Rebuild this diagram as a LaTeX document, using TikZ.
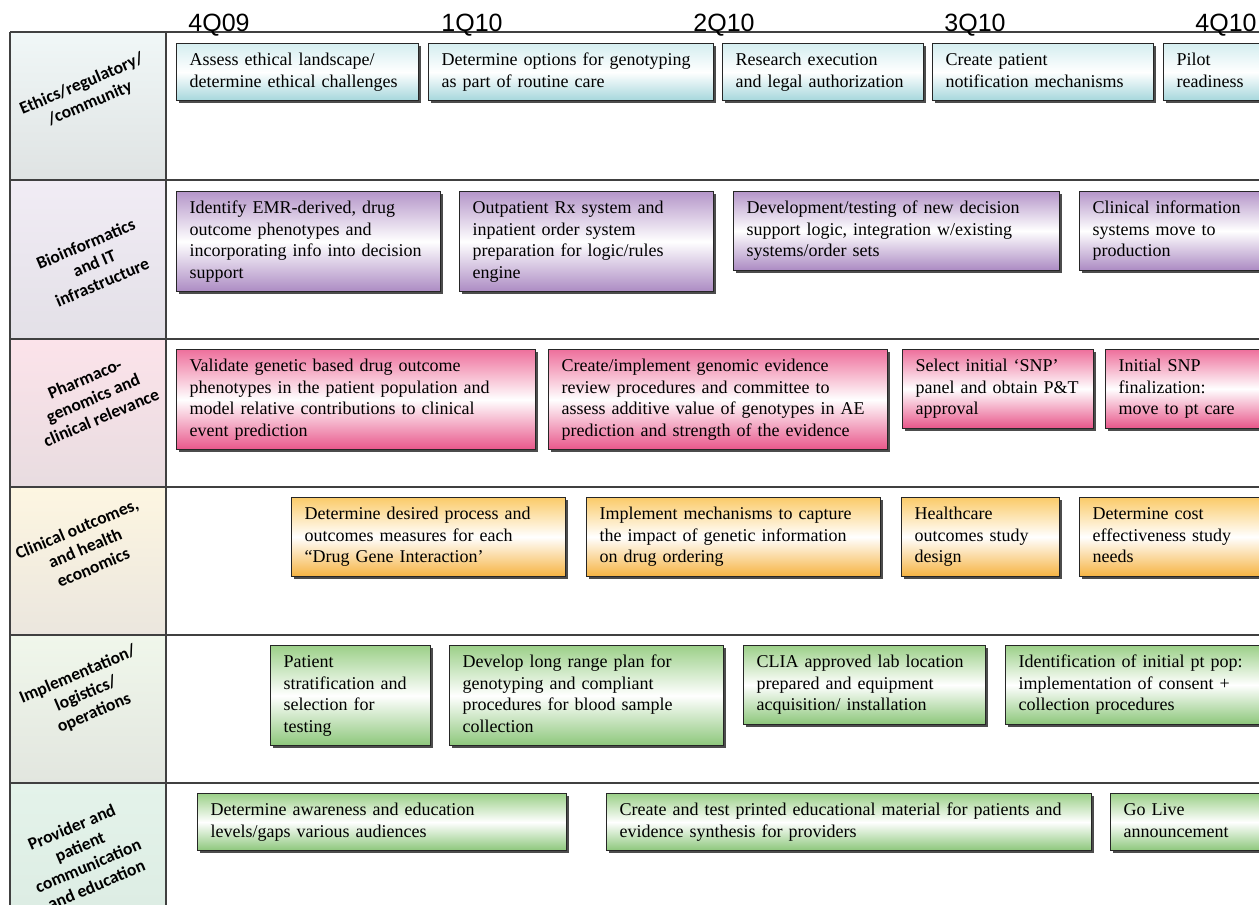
\documentclass[tikz,border=0pt]{standalone}
\usepackage{fontspec}
\setmainfont{Liberation Serif}
\newfontfamily\lanefont{Carlito}
\newfontfamily\quarterfont{Liberation Sans}
\usetikzlibrary{shadows}

\definecolor{ethtop}{HTML}{D5EEF0}
\definecolor{ethbot}{HTML}{A6D7DC}
\definecolor{biotop}{HTML}{B596C9}
\definecolor{biobot}{HTML}{AC8BC3}
\definecolor{pgxtop}{HTML}{EE709C}
\definecolor{pgxbot}{HTML}{E8568A}
\definecolor{outtop}{HTML}{FBCB6A}
\definecolor{outbot}{HTML}{F6B443}
\definecolor{imptop}{HTML}{9CD089}
\definecolor{impbot}{HTML}{8DC77B}
\definecolor{gridline}{HTML}{404040}
\definecolor{laneAt}{HTML}{F0F7F7}\definecolor{laneAb}{HTML}{DFE3E3}
\definecolor{laneBt}{HTML}{F1ECF5}\definecolor{laneBb}{HTML}{E3E0E7}
\definecolor{laneCt}{HTML}{FCE3EA}\definecolor{laneCb}{HTML}{E8DCE0}
\definecolor{laneDt}{HTML}{FDF6E1}\definecolor{laneDb}{HTML}{EBE6DE}
\definecolor{laneEt}{HTML}{F0F7EB}\definecolor{laneEb}{HTML}{E2E6DF}
\definecolor{laneFt}{HTML}{E4F3EA}\definecolor{laneFb}{HTML}{DDEDE4}

\tikzset{
  task/.style={draw=black!85, line width=1.2pt, anchor=north west, align=left,
    inner xsep=13pt, inner ysep=7pt, font=\fontsize{18}{21.5}\selectfont,
    execute at begin node=\strut, execute at end node=\strut,
    drop shadow={shadow xshift=2.5pt, shadow yshift=-2.5pt, fill=black!70, opacity=1}},
  taskcol/.style 2 args={task, top color=#1, bottom color=#2, middle color=white},
  ethbox/.style={taskcol={ethtop}{ethbot}},
  biobox/.style={taskcol={biotop}{biobot}},
  pgxbox/.style={taskcol={pgxtop}{pgxbot}},
  outbox/.style={taskcol={outtop}{outbot}},
  impbox/.style={taskcol={imptop}{impbot}},
  lanecell/.style 2 args={top color=#1, bottom color=#2},
  lane/.style={rotate=23, align=center, font=\lanefont\bfseries\fontsize{17.5}{21}\selectfont},
  quarter/.style={anchor=base, font=\quarterfont\fontsize{25}{25}\selectfont},
  grid/.style={draw=gridline, line width=1.4pt}
}

\begin{document}
\begin{tikzpicture}[x=1pt, y=-1pt]
  \useasboundingbox (0,0) rectangle (1259,905);
  \clip (0,0) rectangle (1259,905);

  % lane headers
  \shade[lanecell={laneAt}{laneAb}] (10,32) rectangle (166,180);
  \shade[lanecell={laneBt}{laneBb}] (10,180) rectangle (166,339);
  \shade[lanecell={laneCt}{laneCb}] (10,339) rectangle (166,487);
  \shade[lanecell={laneDt}{laneDb}] (10,487) rectangle (166,635);
  \shade[lanecell={laneEt}{laneEb}] (10,635) rectangle (166,783);
  \shade[lanecell={laneFt}{laneFb}] (10,783) rectangle (166,905);

  \draw[grid] (10,32) -- (1259,32);
  \foreach \y in {180,339,487,635,783}
    \draw[grid] (10,\y) -- (1259,\y);
  \draw[grid] (10,32) -- (10,905);
  \draw[grid] (166,32) -- (166,905);

  \node[quarter] (q409) at (219,31) {4Q09};
  \node[quarter] (q110) at (472,31) {1Q10};
  \node[quarter] (q210) at (724,31) {2Q10};
  \node[quarter] (q310) at (975,31) {3Q10};
  \node[quarter] (q410) at (1226,31) {4Q10};

  \node[lane] (lethics) at (86,94) {Ethics/regulatory/\\/community};
  \node[lane] (lbio) at (94,263) {Bioinformatics\\and IT\\infrastructure};
  \node[lane] (lpgx) at (93,398) {Pharmaco-\\genomics and\\clinical relevance};
  \node[lane] (lout) at (85,548) {Clinical outcomes,\\and health\\economics};
  \node[lane] (limp) at (86,694) {Implementation/\\logistics/\\operations};
  \node[lane] (ledu) at (84,856) {Provider and\\patient\\communication\\and education};

  % tasks
  \node[ethbox, text width=216pt] (eth1) at (176,43) {Assess ethical landscape/\\determine ethical challenges};
  \node[ethbox, text width=259pt] (eth2) at (428,43) {Determine options for genotyping\\as part of routine care};
  \node[ethbox, text width=175pt] (eth3) at (722,43) {Research execution\\and legal authorization};
  \node[ethbox, text width=195pt] (eth4) at (932,43) {Create patient\\notification mechanisms};
  \node[ethbox, text width=100pt] (eth5) at (1163,43) {Pilot\\readiness};

  \node[biobox, text width=238pt] (bio1) at (176,191) {Identify EMR-derived, drug\\outcome phenotypes and\\incorporating info into decision\\support};
  \node[biobox, text width=228pt] (bio2) at (459,191) {Outpatient Rx system and\\inpatient order system\\preparation for logic/rules\\engine};
  \node[biobox, text width=300pt] (bio3) at (733,191) {Development/testing of new decision\\support logic, integration w/existing\\systems/order sets};
  \node[biobox, text width=174pt] (bio4) at (1079,191) {Clinical information\\systems move to\\production};

  \node[pgxbox, text width=333pt] (pgx1) at (176,349) {Validate genetic based drug outcome\\phenotypes in the patient population and\\model relative contributions to clinical\\event prediction};
  \node[pgxbox, text width=313pt] (pgx2) at (548,349) {Create/implement genomic evidence\\review procedures and committee to\\assess additive value of genotypes in AE\\prediction and strength of the evidence};
  \node[pgxbox, text width=165pt] (pgx3) at (902,349) {Select initial ‘SNP’\\panel and obtain P\&T\\approval};
  \node[pgxbox, text width=150pt] (pgx4) at (1105,349) {Initial SNP\\finalization:\\move to pt care};

  \node[outbox, text width=248pt] (out1) at (291,497) {Determine desired process and\\outcomes measures for each\\“Drug Gene Interaction’};
  \node[outbox, text width=268pt] (out2) at (586,497) {Implement mechanisms to capture\\the impact of genetic information\\on drug ordering};
  \node[outbox, text width=132pt] (out3) at (901,497) {Healthcare\\outcomes study\\design};
  \node[outbox, text width=174pt] (out4) at (1079,497) {Determine cost\\effectiveness study\\needs};

  \node[impbox, text width=134pt] (imp1) at (270,645) {Patient\\stratification and\\selection for\\testing};
  \node[impbox, text width=248pt] (imp2) at (449,645) {Develop long range plan for\\genotyping and compliant\\procedures for blood sample\\collection};
  \node[impbox, text width=216pt] (imp3) at (743,645) {CLIA approved lab location\\prepared and equipment\\acquisition/ installation};
  \node[impbox, text width=254pt] (imp4) at (1005,645) {Identification of initial pt pop:\\implementation of consent +\\collection procedures};

  \node[impbox, text width=343pt] (edu1) at (197,793) {Determine awareness and education\\levels/gaps various audiences};
  \node[impbox, text width=459pt] (edu2) at (606,793) {Create and test printed educational material for patients and\\evidence synthesis for providers};
  \node[impbox, text width=144pt] (edu3) at (1110,793) {Go Live\\announcement};
\end{tikzpicture}
\end{document}
